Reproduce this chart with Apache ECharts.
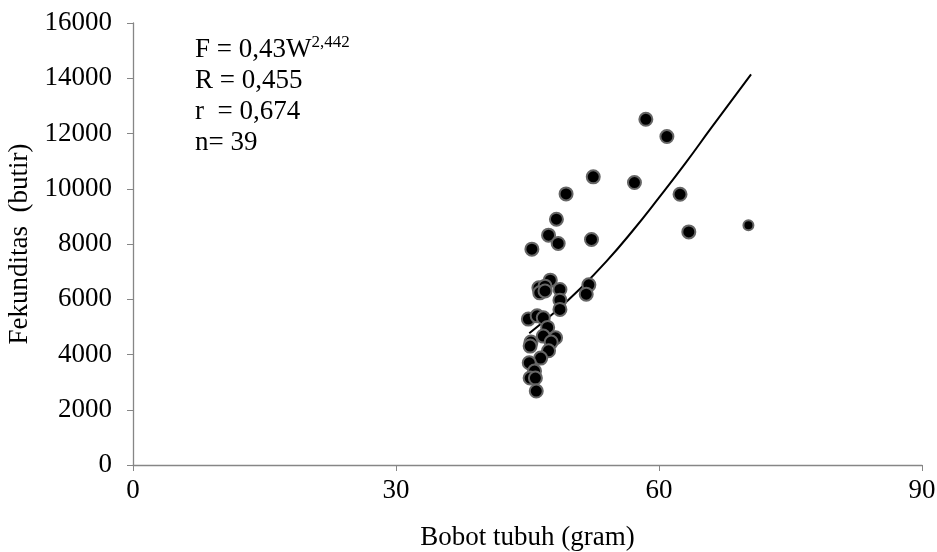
<!DOCTYPE html>
<html>
<head>
<meta charset="utf-8">
<script src="https://cdn.jsdelivr.net/npm/echarts@6/dist/echarts.min.js"></script>
<style>
  html, body { margin: 0; padding: 0; background: #fff; }
  #chart { width: 937px; height: 552px; }
</style>
</head>
<body>
<div id="chart"></div>
<script>
// bobot tubuh (gram) and fekunditas (butir)
var bobot = [52.5, 57.2, 49.4, 62.4, 48.3, 63.4, 47.4, 48.5, 52.3, 45.5,
             47.6, 46.3, 47.0, 46.4, 48.7, 52.0, 51.7, 48.7, 48.7, 45.1,
             46.1, 46.8, 47.3, 48.2, 46.8, 47.7, 45.4, 45.3, 47.4, 46.5,
             45.2, 45.8, 45.3, 45.9, 46.0, 58.5, 60.9, 47.0];
var fekunditas = [10430, 10225, 9813, 9800, 8898, 8438, 8320, 8019, 8164, 7813,
                  6691, 6413, 6474, 6232, 6355, 6522, 6185, 5968, 5632, 5281,
                  5400, 5328, 4981, 4604, 4666, 4449, 4449, 4304, 4134, 3870,
                  3700, 3400, 3147, 3147, 2677, 12515, 11890, 6300];
// the one small point on the right
var bobotKecil = [70.2];
var fekKecil = [8680];
// power trend line
var trendX = [45.2, 48, 51, 54, 57, 60, 63, 66, 70.5];
var trendY = [4770, 5500, 6380, 7370, 8480, 9680, 10920, 12220, 14140];

var xTicks = [0, 30, 60, 90];
var yTicks = [0, 2000, 4000, 6000, 8000, 10000, 12000, 14000, 16000];

var font = '"Liberation Serif", "DejaVu Serif", serif';
var axisGray = '#868686';

function pairs(a, b) {
    return a.map(function (v, i) { return [v, b[i]]; });
}

var chart = echarts.init(document.getElementById('chart'));
var option = {
    animation: false,
    backgroundColor: '#fff',
    grid: { left: 133, right: 15, top: 23, bottom: 87, containLabel: false, outerBoundsMode: 'none' },
    xAxis: {
        type: 'value',
        min: xTicks[0], max: xTicks[xTicks.length - 1], interval: 30,
        name: 'Bobot tubuh (gram)',
        nameLocation: 'middle', nameGap: 59,
        nameTextStyle: { fontFamily: font, fontSize: 27, color: '#000' },
        axisLine: { show: true, lineStyle: { color: axisGray, width: 1.3 } },
        axisTick: { show: true, length: 6, lineStyle: { color: axisGray } },
        axisLabel: { fontFamily: font, fontSize: 27, color: '#000', margin: 12 },
        splitLine: { show: false }
    },
    yAxis: {
        type: 'value',
        min: yTicks[0], max: yTicks[yTicks.length - 1], interval: 2000,
        name: 'Fekunditas  (butir)',
        nameLocation: 'middle', nameGap: 96, nameRotate: 90,
        nameTextStyle: { fontFamily: font, fontSize: 27, color: '#000' },
        axisLine: { show: true, lineStyle: { color: axisGray, width: 1.3 } },
        axisTick: { show: true, length: 6, lineStyle: { color: axisGray } },
        axisLabel: {
            fontFamily: font, fontSize: 27, color: '#000', margin: 21,
            formatter: function (v) { return String(v); }
        },
        splitLine: { show: false }
    },
    graphic: [{
        type: 'text',
        left: 195, top: 34,
        style: {
            text: '{a|F = 0,43W}{s|2,442}\n{a|R = 0,455}\n{a|r  = 0,674}\n{a|n= 39}',
            rich: {
                a: { fontFamily: font, fontSize: 27, lineHeight: 31, fill: '#000' },
                s: { fontFamily: font, fontSize: 17, lineHeight: 31, fill: '#000', verticalAlign: 'top', padding: [0, 0, 14, 0] }
            }
        }
    }],
    series: [
        {
            type: 'line',
            data: pairs(trendX, trendY),
            showSymbol: false,
            smooth: true,
            lineStyle: { color: '#000', width: 2 },
            z: 3
        },
        {
            type: 'scatter',
            data: pairs(bobot, fekunditas),
            symbolSize: 13,
            itemStyle: { color: '#000', borderColor: '#666', borderWidth: 2, opacity: 1 },
            z: 4
        },
        {
            type: 'scatter',
            data: pairs(bobotKecil, fekKecil),
            symbolSize: 10,
            itemStyle: { color: '#000', borderColor: '#666', borderWidth: 2, opacity: 1 },
            z: 4
        }
    ]
};
chart.setOption(option);
</script>
</body>
</html>
